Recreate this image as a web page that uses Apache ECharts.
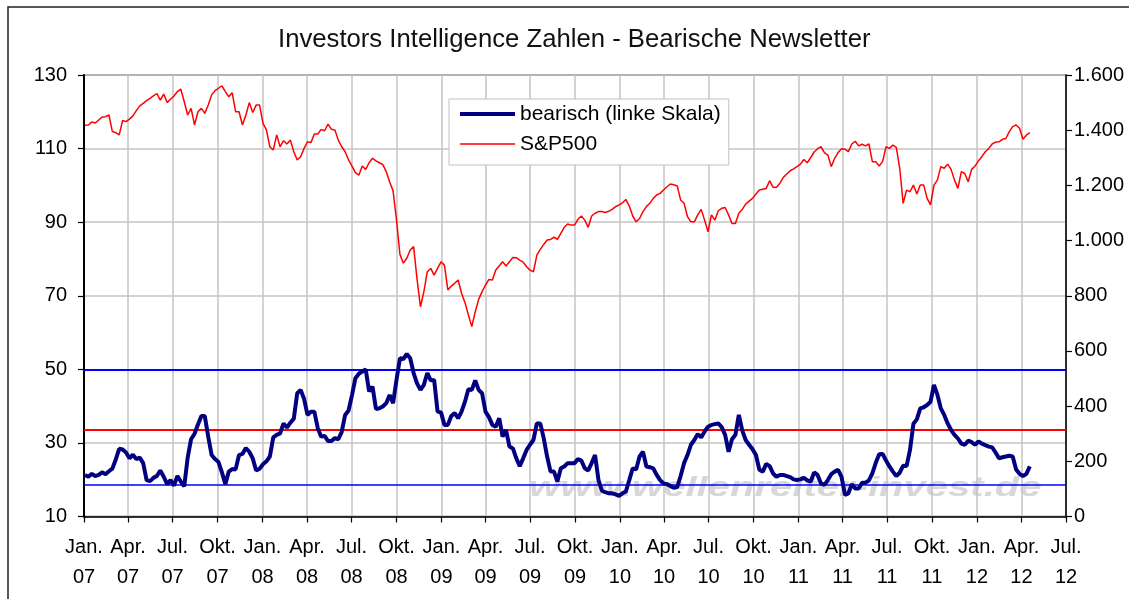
<!DOCTYPE html>
<html>
<head>
<meta charset="utf-8">
<title>Investors Intelligence Zahlen - Bearische Newsletter</title>
<script src="https://cdn.jsdelivr.net/npm/echarts@6/dist/echarts.min.js"></script>
<style>
  html, body { margin: 0; padding: 0; background: #fff; }
  #chart { width: 1129px; height: 599px; }
</style>
</head>
<body>
<div id="chart"></div>
<script>
// weekly readings, first week starting 2007-01-03
const firstWeek = [2007, 0, 3];
const bearish = [
  21.3, 20.8, 21.6, 21.0, 21.3, 22.0, 21.5, 22.3, 23.0, 25.5,
  28.4, 28.2, 27.4, 25.8, 26.8, 25.6, 26.0, 24.5, 19.9, 19.6,
  20.5, 21.0, 22.5, 20.8, 18.8, 19.9, 18.4, 21.0, 19.5, 18.2,
  26.0, 31.0, 32.5, 35.0, 37.3, 37.3, 31.7, 26.7, 25.6, 24.8,
  22.0, 18.8, 22.2, 22.9, 22.8, 26.7, 27.0, 28.6, 27.6, 25.8,
  22.5, 23.0, 24.2, 25.0, 26.3, 31.5, 32.2, 32.6, 35.3, 34.2,
  35.5, 36.6, 43.5, 44.4, 42.0, 37.6, 38.5, 38.5, 34.0, 31.7,
  31.9, 30.5, 30.5, 31.3, 31.0, 33.0, 37.6, 38.8, 43.0, 47.6,
  48.8, 49.4, 50.0, 44.0, 45.3, 39.2, 39.4, 39.9, 40.8, 43.0,
  40.8, 47.1, 53.0, 52.8, 54.2, 53.0, 49.0, 46.2, 44.4, 45.8,
  49.0, 47.0, 47.1, 38.5, 38.3, 34.9, 34.9, 37.3, 38.1, 36.7,
  38.5, 41.2, 44.6, 44.4, 47.0, 44.4, 43.5, 38.5, 37.0, 34.9,
  34.4, 36.7, 31.7, 33.5, 29.0, 28.5, 25.8, 23.7, 25.8, 28.1,
  29.5, 30.8, 35.3, 35.3, 31.3, 26.3, 22.2, 22.2, 19.5, 23.1,
  23.6, 24.5, 24.5, 24.5, 25.6, 25.2, 23.1, 22.5, 24.5, 26.7,
  19.9, 17.0, 16.6, 16.3, 16.3, 16.0, 15.6, 16.3, 16.8, 19.9,
  23.1, 22.8, 26.3, 27.6, 23.6, 23.4, 23.1, 21.3, 19.9, 19.0,
  18.8, 18.3, 17.8, 18.0, 21.0, 24.5, 26.7, 29.5, 30.8, 32.4,
  31.5, 33.1, 34.4, 34.9, 35.1, 35.3, 34.3, 32.2, 27.6, 31.0,
  32.2, 37.6, 33.4, 30.8, 29.5, 28.3, 26.7, 22.7, 22.2, 24.3,
  23.7, 21.7, 20.8, 21.3, 21.3, 21.0, 20.7, 20.1, 19.9, 20.1,
  20.5, 19.8, 19.5, 22.0, 21.3, 19.0, 18.6, 19.9, 21.5, 22.2,
  22.7, 20.8, 15.9, 16.3, 18.8, 17.6, 17.6, 19.2, 19.2, 19.8,
  21.7, 24.6, 26.9, 27.0, 25.2, 23.6, 22.2, 21.0, 21.9, 23.8,
  23.7, 28.1, 35.2, 36.4, 39.4, 39.7, 40.3, 41.2, 45.8, 43.1,
  39.4, 37.6, 35.3, 33.5, 32.2, 31.2, 29.8, 29.5, 30.6, 30.2,
  29.5, 30.4, 29.8, 29.4, 29.0, 28.8, 27.4, 25.8, 26.1, 26.3,
  26.5, 26.3, 22.8, 21.6, 21.0, 21.6, 23.6
];
const sp500 = [
  1418, 1419, 1430, 1426, 1437, 1448, 1449, 1455, 1395, 1391,
  1383, 1435, 1431, 1440, 1452, 1471, 1488, 1497, 1507, 1515,
  1524, 1533, 1509, 1531, 1500, 1512, 1524, 1540, 1549, 1503,
  1455, 1479, 1419, 1467, 1479, 1461, 1491, 1528, 1543, 1552,
  1561, 1540, 1521, 1536, 1467, 1467, 1419, 1455, 1500, 1464,
  1491, 1491, 1425, 1401, 1340, 1328, 1383, 1340, 1362, 1350,
  1364, 1322, 1292, 1304, 1334, 1358, 1355, 1386, 1386, 1403,
  1398, 1422, 1403, 1401, 1364, 1340, 1322, 1292, 1270, 1246,
  1237, 1270, 1258, 1282, 1298, 1289, 1282, 1275, 1250, 1212,
  1180, 1075, 950, 918, 936, 966, 978, 860, 760, 815,
  887, 899, 875, 899, 923, 911, 821, 835, 845, 857,
  809, 775, 730, 688, 742, 787, 815, 839, 859, 857,
  893, 908, 923, 908, 923, 939, 938, 929, 922, 905,
  893, 887, 947, 968, 986, 1002, 1004, 1012, 1004, 1026,
  1048, 1060, 1056, 1056, 1077, 1089, 1074, 1048, 1089, 1099,
  1105, 1105, 1102, 1106, 1113, 1123, 1129, 1137, 1149, 1125,
  1089, 1068, 1080, 1105, 1123, 1135, 1153, 1165, 1171, 1183,
  1195, 1205, 1202, 1198, 1147, 1135, 1087, 1068, 1068, 1093,
  1113, 1074, 1032, 1093, 1074, 1108, 1117, 1120, 1093, 1062,
  1062, 1099, 1113, 1132, 1143, 1153, 1169, 1183, 1186, 1189,
  1217, 1193, 1193, 1208, 1229, 1241, 1253, 1260, 1268, 1277,
  1294, 1282, 1301, 1321, 1333, 1340, 1319, 1310, 1268, 1298,
  1319, 1333, 1331, 1322, 1350, 1360, 1343, 1349, 1343, 1350,
  1286, 1286, 1270, 1286, 1340, 1334, 1346, 1338, 1262, 1135,
  1183, 1177, 1201, 1169, 1201, 1201, 1153, 1129, 1201, 1219,
  1268, 1262, 1277, 1258, 1219, 1189, 1250, 1243, 1213, 1258,
  1270, 1289, 1304, 1322, 1333, 1350, 1357, 1358, 1367, 1370,
  1395, 1413, 1419, 1407, 1367, 1382, 1391
];
// horizontal reference levels on the left scale
const levels = [50, 33.5, 18.5];
const levelColors = ["#0000ff", "#ff0000", "#0000ff"];
const quarterNames = ["Jan.", "Apr.", "Jul.", "Okt."];
const leftTicks = [10, 30, 50, 70, 90, 110, 130];

const WEEK = 7 * 24 * 3600 * 1000;
const t0 = new Date(firstWeek[0], firstWeek[1], firstWeek[2]).getTime();
const bearData = bearish.map((v, i) => [t0 + i * WEEK, v]);
const spData = sp500.map((v, i) => [t0 + i * WEEK, v]);

const quarterTicks = [];
for (let y = 2007; y <= 2012; y++) {
  for (let q = 0; q < 4; q++) {
    if (y === 2012 && q > 2) break;
    quarterTicks.push(new Date(y, q * 3, 1).getTime());
  }
}

const font = "Liberation Sans, Arial, sans-serif";
const chart = echarts.init(document.getElementById("chart"));
chart.setOption({
  animation: false,
  backgroundColor: "#fff",
  textStyle: { fontFamily: font },
  title: {
    text: "Investors Intelligence Zahlen - Bearische Newsletter",
    left: 278,
    top: 24.5,
    padding: 0,
    textStyle: { fontSize: 25.7, fontWeight: "normal", color: "#111", lineHeight: 30, fontFamily: font },
  },
  legend: {
    orient: "vertical",
    left: 449,
    top: 99,
    padding: [3, 8, 9, 9],
    itemGap: 6,
    itemWidth: 55,
    itemHeight: 14,
    backgroundColor: "#fff",
    borderColor: "#c0c0c0",
    borderWidth: 1,
    itemStyle: { opacity: 0 },
    textStyle: { fontSize: 21, color: "#000", lineHeight: 24, fontFamily: font },
    data: [
      { name: "bearisch (linke Skala)", lineStyle: { width: 4, color: "#000080" } },
      { name: "S&P500", lineStyle: { width: 1.5, color: "#ff0000" } },
    ],
  },
  graphic: [
    {
      type: "rect",
      shape: { x: 8, y: 7, width: 1200, height: 700 },
      style: { fill: "none", stroke: "#222", lineWidth: 1.5 },
      silent: true,
    },
    {
      type: "text",
      x: 529,
      y: 488,
      scaleX: 1.43,
      z: 0,
      silent: true,
      style: {
        text: "www.wellenreiter-invest.de",
        x: 0,
        y: 0,
        align: "left",
        verticalAlign: "middle",
        font: "italic bold 28px Liberation Sans, Arial, sans-serif",
        fill: "rgba(205,205,205,0.8)",
        shadowBlur: 3,
        shadowColor: "rgba(150,150,150,0.6)",
      },
    },
  ],
  grid: {
    left: 84,
    right: 63,
    top: 75,
    bottom: 82.5,
    show: true,
    borderColor: "#555",
    borderWidth: 1.5,
    backgroundColor: "transparent",
  },
  xAxis: {
    type: "value",
    min: quarterTicks[0],
    max: quarterTicks[quarterTicks.length - 1],
    axisLine: { lineStyle: { color: "#000", width: 1.5 } },
    axisTick: { show: true, length: 6, customValues: quarterTicks, lineStyle: { color: "#000", width: 1.2 } },
    splitLine: { show: true, lineStyle: { color: "#c4c4c4", width: 1.5 } },
    axisLabel: {
      customValues: quarterTicks,
      margin: 16,
      fontSize: 20,
      lineHeight: 30,
      color: "#000",
      fontFamily: font,
      formatter: (val) => {
        const d = new Date(val);
        return quarterNames[Math.floor(d.getMonth() / 3)] + "\n" + String(d.getFullYear()).slice(2);
      },
    },
  },
  yAxis: [
    {
      type: "value",
      min: 10,
      max: 130,
      position: "left",
      axisLine: { show: true, lineStyle: { color: "#000", width: 2 } },
      axisTick: { show: true, length: 6, customValues: leftTicks, lineStyle: { color: "#000", width: 1.2 } },
      splitLine: { show: true, lineStyle: { color: "#c4c4c4", width: 1.5 } },
      axisLabel: { customValues: leftTicks, margin: 17, fontSize: 20, color: "#000", fontFamily: font },
    },
    {
      type: "value",
      min: 0,
      max: 1600,
      interval: 200,
      position: "right",
      axisLine: { show: true, lineStyle: { color: "#000", width: 1.5 } },
      axisTick: { show: true, length: 6, lineStyle: { color: "#000", width: 1.2 } },
      splitLine: { show: false },
      axisLabel: {
        margin: 8,
        fontSize: 20,
        color: "#000",
        fontFamily: font,
        formatter: (v) => String(v).replace(/\B(?=(\d{3})+(?!\d))/g, "."),
      },
    },
  ],
  series: [
    {
      name: "S&P500",
      type: "line",
      yAxisIndex: 1,
      data: spData,
      symbol: "none",
      lineStyle: { color: "#ff0000", width: 1.5 },
      itemStyle: { color: "#ff0000" },
      z: 3,
    },
    {
      name: "bearisch (linke Skala)",
      type: "line",
      yAxisIndex: 0,
      data: bearData,
      symbol: "none",
      lineStyle: { color: "#000080", width: 4 },
      itemStyle: { color: "#000080" },
      z: 4,
      markLine: {
        silent: true,
        symbol: ["none", "none"],
        label: { show: false },
        z: 2,
        data: levels.map((lv, i) => ({
          yAxis: lv,
          lineStyle: { color: levelColors[i], width: i === 2 ? 1.5 : 2, type: "solid" },
        })),
      },
    },
  ],
});
</script>
</body>
</html>
